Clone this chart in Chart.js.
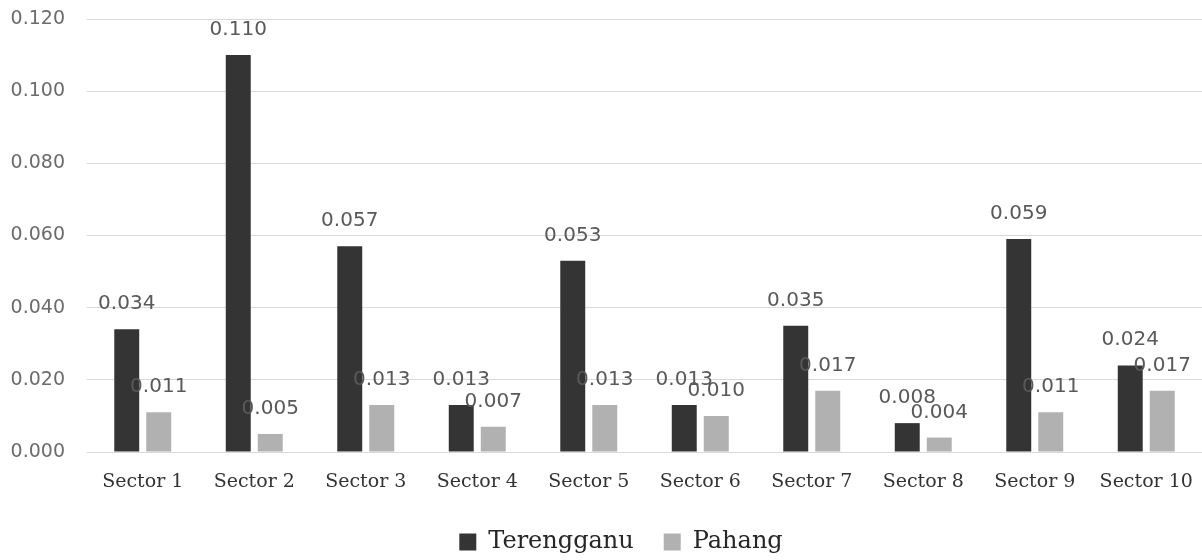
<!DOCTYPE html>
<html>
<head>
<meta charset="utf-8">
<script src="https://cdn.jsdelivr.net/npm/chart.js@4"></script>
<style>
  html, body { margin: 0; padding: 0; background: #ffffff; }
  #wrap { width: 1202px; height: 560px; }
</style>
</head>
<body>
<div id="wrap"><canvas id="chart" width="1202" height="560"></canvas></div>
<script>
// Sector values for the two states
const sectors = ['Sector 1', 'Sector 2', 'Sector 3', 'Sector 4', 'Sector 5',
                 'Sector 6', 'Sector 7', 'Sector 8', 'Sector 9', 'Sector 10'];
const terengganu = [0.034, 0.110, 0.057, 0.013, 0.053, 0.013, 0.035, 0.008, 0.059, 0.024];
const pahang     = [0.011, 0.005, 0.013, 0.007, 0.013, 0.010, 0.017, 0.004, 0.011, 0.017];
const yTicks = [0, 0.02, 0.04, 0.06, 0.08, 0.10, 0.12];

const numberFamily = '"DejaVu Sans", sans-serif';
const serifFont = '"DejaVu Serif", serif';

// Writes each bar's value just above it
const valueLabels = {
  id: 'valueLabels',
  afterDatasetsDraw(chart) {
    const ctx = chart.ctx;
    ctx.save();
    ctx.font = '20px ' + numberFamily;
    ctx.fillStyle = '#595959';
    ctx.textAlign = 'center';
    ctx.textBaseline = 'alphabetic';
    chart.data.datasets.forEach((ds, di) => {
      const meta = chart.getDatasetMeta(di);
      meta.data.forEach((bar, i) => {
        ctx.fillText(ds.data[i].toFixed(3), bar.x, bar.y - 20);
      });
    });
    ctx.restore();
  }
};

// Keeps the legend compact while leaving wide gaps between its items
const LEGEND_H = 36;
const LEGEND_SHIFT_X = 20;
const legendLayout = {
  id: 'legendLayout',
  beforeLayout(chart) {
    const lg = chart.legend;
    if (lg && !lg._compactFit) {
      const fit = lg.fit;
      lg.fit = function () { fit.call(this); this.height = LEGEND_H; };
      lg._compactFit = true;
    }
  },
  afterLayout(chart) {
    const lg = chart.legend;
    const pad = lg.options.labels.padding;
    lg.top = 530 - pad;
    lg.left += LEGEND_SHIFT_X;
    lg.right += LEGEND_SHIFT_X;
  }
};

new Chart(document.getElementById('chart'), {
  type: 'bar',
  data: {
    labels: sectors,
    datasets: [
      { label: 'Terengganu', data: terengganu, backgroundColor: '#333433',
        categoryPercentage: 0.574, barPercentage: 0.78 },
      { label: 'Pahang', data: pahang, backgroundColor: '#b1b1b1',
        categoryPercentage: 0.574, barPercentage: 0.78 }
    ]
  },
  options: {
    responsive: false,
    animation: false,
    devicePixelRatio: 1,
    layout: { padding: { top: 19, right: 0, bottom: 0, left: 0 } },
    plugins: {
      tooltip: { enabled: false },
      legend: {
        position: 'bottom',
        labels: {
          font: { family: serifFont, size: 24 },
          color: '#262626',
          boxWidth: 17,
          boxHeight: 17,
          padding: 30
        }
      }
    },
    scales: {
      x: {
        grid: { display: false, drawTicks: false },
        border: { display: false },
        ticks: {
          font: { family: serifFont, size: 19 },
          color: '#333333',
          padding: 19,
          maxRotation: 0,
          autoSkip: false
        },
        afterFit(scale) {
          scale.height = 72;
          scale.paddingLeft = 0;
          scale.paddingRight = 0;
        }
      },
      y: {
        min: 0,
        max: 0.12,
        afterBuildTicks(scale) { scale.ticks = yTicks.map(v => ({ value: v })); },
        grid: { color: '#d9d9d9', lineWidth: 1, drawTicks: false },
        border: { display: false },
        ticks: {
          font: { family: numberFamily, size: 19 },
          color: '#6b6b6b',
          padding: 22,
          callback: v => Number(v).toFixed(3)
        },
        afterFit(scale) {
          scale.width = 87;
          scale.paddingTop = 0;
          scale.paddingBottom = 0;
        }
      }
    }
  },
  plugins: [valueLabels, legendLayout]
});
</script>
</body>
</html>
